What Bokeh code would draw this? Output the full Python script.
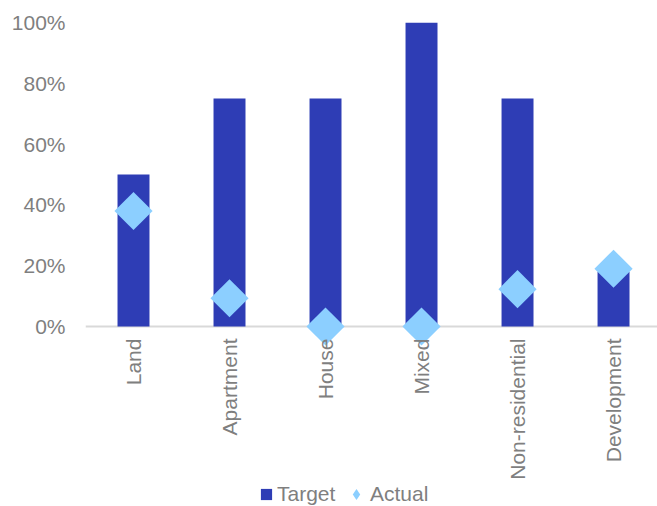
import math
from bokeh.plotting import figure
from bokeh.models import (Range1d, FixedTicker, NumeralTickFormatter, Span,
                          Legend, LegendItem, ColumnDataSource)
from bokeh.embed import file_html
from bokeh.resources import INLINE

categories = ["Land", "Apartment", "House", "Mixed", "Non-residential", "Development"]
target = [0.50, 0.75, 0.75, 1.00, 0.75, 0.18]
actual = [0.38, 0.093, 0.0, 0.0, 0.123, 0.19]
y_ticks = [0.0, 0.2, 0.4, 0.6, 0.8, 1.0]

BAR = "#2E3DB5"
DIAM = "#8CCFFF"
TXT = "#7F7F7F"
FONT = "Liberation Sans"

xs = [i + 0.5 for i in range(len(categories))]
src = ColumnDataSource(dict(x=xs, target=target, actual=actual))

p = figure(width=657, height=506, output_backend="svg", toolbar_location=None,
           x_range=Range1d(0, 5.958), y_range=Range1d(-0.592, 1.0),
           min_border_left=85, min_border_right=0, min_border_top=22,
           min_border_bottom=0)
p.outline_line_color = None
p.background_fill_color = "white"
p.border_fill_color = "white"
p.xgrid.visible = False
p.ygrid.visible = False

base = Span(location=0, dimension="width", line_color="#D9D9D9", line_width=2,
            level="underlay")
p.add_layout(base)

bars = p.vbar(x="x", top="target", bottom=0, width=0.333, source=src,
              fill_color=BAR, line_color=None)
pts = p.scatter(x="x", y="actual", source=src, marker="square", size=27,
                angle=math.pi / 4, fill_color=DIAM, line_color=None)
# hidden twin of the Actual series, used only for its diamond legend symbol
legend_diamond = p.scatter(x="x", y="actual", source=src, marker="diamond",
                           size=11, fill_color=DIAM, line_color=None,
                           visible=False)

# x axis, pinned at y = 0 inside the frame
xa = p.xaxis[0]
xa.fixed_location = 0
xa.ticker = FixedTicker(ticks=xs)
xa.major_label_overrides = {x: c for x, c in zip(xs, categories)}
xa.major_label_orientation = math.pi / 2
xa.axis_line_color = None
xa.major_tick_line_color = None
xa.minor_tick_line_color = None
xa.major_tick_out = 0
xa.major_tick_in = 0
xa.major_label_text_font = FONT
xa.major_label_text_font_size = "21px"
xa.major_label_text_color = TXT
xa.major_label_standoff = 12

# y axis
ya = p.yaxis[0]
ya.ticker = FixedTicker(ticks=y_ticks)
ya.formatter = NumeralTickFormatter(format="0%")
ya.axis_line_color = None
ya.major_tick_line_color = None
ya.minor_tick_line_color = None
ya.major_tick_out = 0
ya.major_tick_in = 0
ya.major_label_text_font = FONT
ya.major_label_text_font_size = "21px"
ya.major_label_text_color = TXT
ya.major_label_standoff = 20

common = dict(orientation="horizontal", margin=0,
              label_text_font=FONT, label_text_font_size="21px",
              label_text_color=TXT, border_line_color=None,
              background_fill_alpha=0, inactive_fill_alpha=0)

legend1 = Legend(items=[LegendItem(label="Target", renderers=[bars])],
                 location=(174, 0), glyph_width=14, glyph_height=14,
                 label_standoff=4, label_height=21, padding=2, **common)
legend2 = Legend(items=[LegendItem(label="Actual", renderers=[legend_diamond],
                                   index=0)],
                 location=(257, -1.5), glyph_width=28, glyph_height=28,
                 label_standoff=0, label_height=21, padding=0, **common)
p.add_layout(legend1, "center")
p.add_layout(legend2, "center")

open("out.html", "w").write(file_html(p, INLINE))
